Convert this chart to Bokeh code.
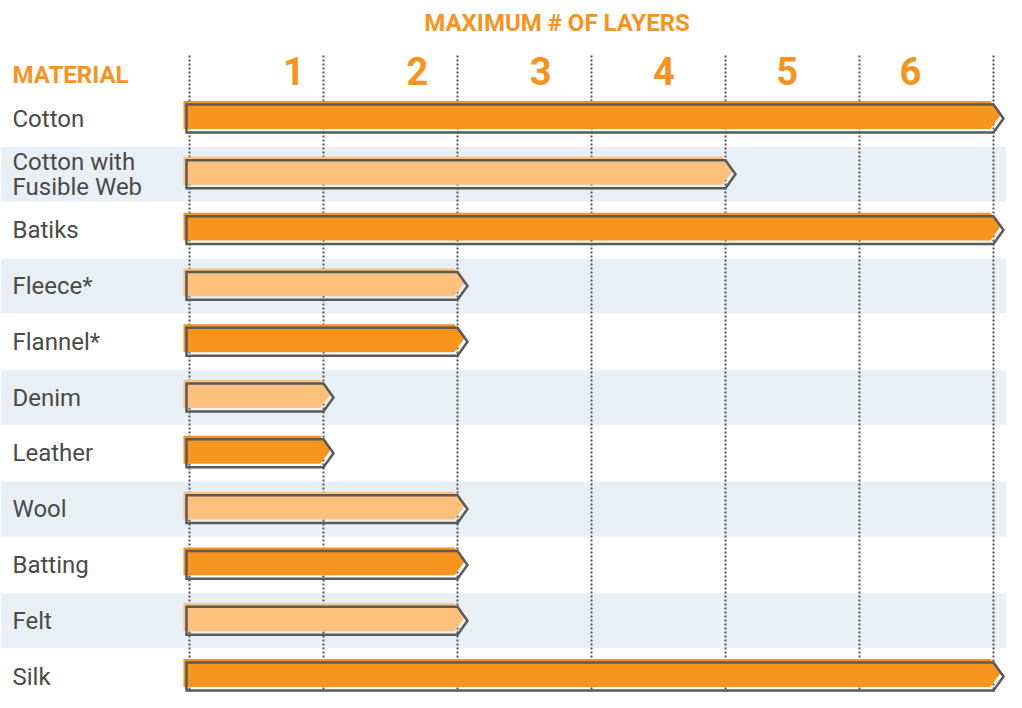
from bokeh.plotting import figure
from bokeh.models import Range1d
from bokeh.core.properties import value
from bokeh.embed import file_html
from bokeh.resources import INLINE

# ---- data ----
materials = ["Cotton", "Cotton with\nFusible Web", "Batiks", "Fleece*", "Flannel*",
             "Denim", "Leather", "Wool", "Batting", "Felt", "Silk"]
max_layers = [6, 4, 6, 2, 2, 1, 1, 2, 2, 2, 6]
tick_labels = ["1", "2", "3", "4", "5", "6"]
tick_values = [1, 2, 3, 4, 5, 6]
title_text = "MAXIMUM # OF LAYERS"
column_header = "MATERIAL"

# ---- style ----
ORANGE = "#F7941D"
LIGHT_ORANGE = "#FDC17C"
BAND = "#E8F0F5"
OUTLINE = "#5A5A5A"
LABEL = "#4A4A4A"
FONT = "Roboto"

W, H = 1006, 692
px_per_x = 134.0
px_per_y = 55.8
x0_px = 189.0
y0_px = 118.0
x_start = -x0_px / px_per_x
x_end = (W - x0_px) / px_per_x
y_top = -y0_px / px_per_y
y_bottom = (H - y0_px) / px_per_y

p = figure(width=W, height=H, output_backend="svg", toolbar_location=None,
           x_range=Range1d(x_start, x_end), y_range=Range1d(y_bottom, y_top),
           x_axis_location=None, y_axis_location=None, min_border=0,
           background_fill_color="white", border_fill_color="white")
p.outline_line_color = None
p.grid.visible = False

n = len(materials)
rows = list(range(n))

# alternating bands
band_rows = [i for i in rows if i % 2 == 1]
p.quad(left=[x_start] * len(band_rows), right=[x_end] * len(band_rows),
       top=[i - 0.49 for i in band_rows], bottom=[i + 0.49 for i in band_rows],
       fill_color=BAND, line_color=None)

# dotted vertical grid lines
grid_x = [0] + tick_values
grid_top = (55 - y0_px) / px_per_y
p.segment(x0=grid_x, x1=grid_x, y0=[grid_top] * len(grid_x), y1=[y_bottom] * len(grid_x),
          line_color="#555555", line_width=2, line_dash="2 2")

# bars (arrow shapes)
half_h = 0.25
tip = 10 / px_per_x
left = -3 / px_per_x
fdx = -3 / px_per_x
fdy = -3.5 / px_per_y

fill_xs, fill_ys, out_xs, out_ys, colors = [], [], [], [], []
for i, v in zip(rows, max_layers):
    xs = [left, v, v + tip, v, left]
    ys = [i - half_h, i - half_h, i, i + half_h, i + half_h]
    out_xs.append(xs)
    out_ys.append(ys)
    fill_xs.append([x + fdx for x in xs])
    fill_ys.append([y + fdy for y in ys])
    colors.append(ORANGE if i % 2 == 0 else LIGHT_ORANGE)

p.patches(fill_xs, fill_ys, fill_color=colors, line_color=None)
p.patches(out_xs, out_ys, fill_alpha=0, line_color=OUTLINE, line_width=2.5,
          line_join="miter")

# material labels
label_x = (12 - x0_px) / px_per_x
p.text(x=[label_x] * n, y=rows, text=materials, text_font=value(FONT),
       text_font_size="24px", text_color=LABEL, text_align="left",
       text_baseline="middle", text_line_height=0.9)

# header "MATERIAL"
p.text(x=[label_x], y=[(74 - y0_px) / px_per_y], text=[column_header],
       text_font=value(FONT), text_font_style="bold", text_font_size="24px",
       text_color=ORANGE, text_align="left", text_baseline="middle")

# layer numbers
num_x = [0.92 * t - 0.14 for t in tick_values]
p.text(x=num_x, y=[(70 - y0_px) / px_per_y] * len(num_x), text=tick_labels,
       text_font=value(FONT), text_font_style="bold", text_font_size="38px",
       text_color=ORANGE, text_align="center", text_baseline="middle")

# title
p.text(x=[2.743], y=[(22 - y0_px) / px_per_y], text=[title_text],
       text_font=value(FONT), text_font_style="bold", text_font_size="24px",
       text_color=ORANGE, text_align="center", text_baseline="middle")

open("out.html", "w").write(file_html(p, INLINE))
